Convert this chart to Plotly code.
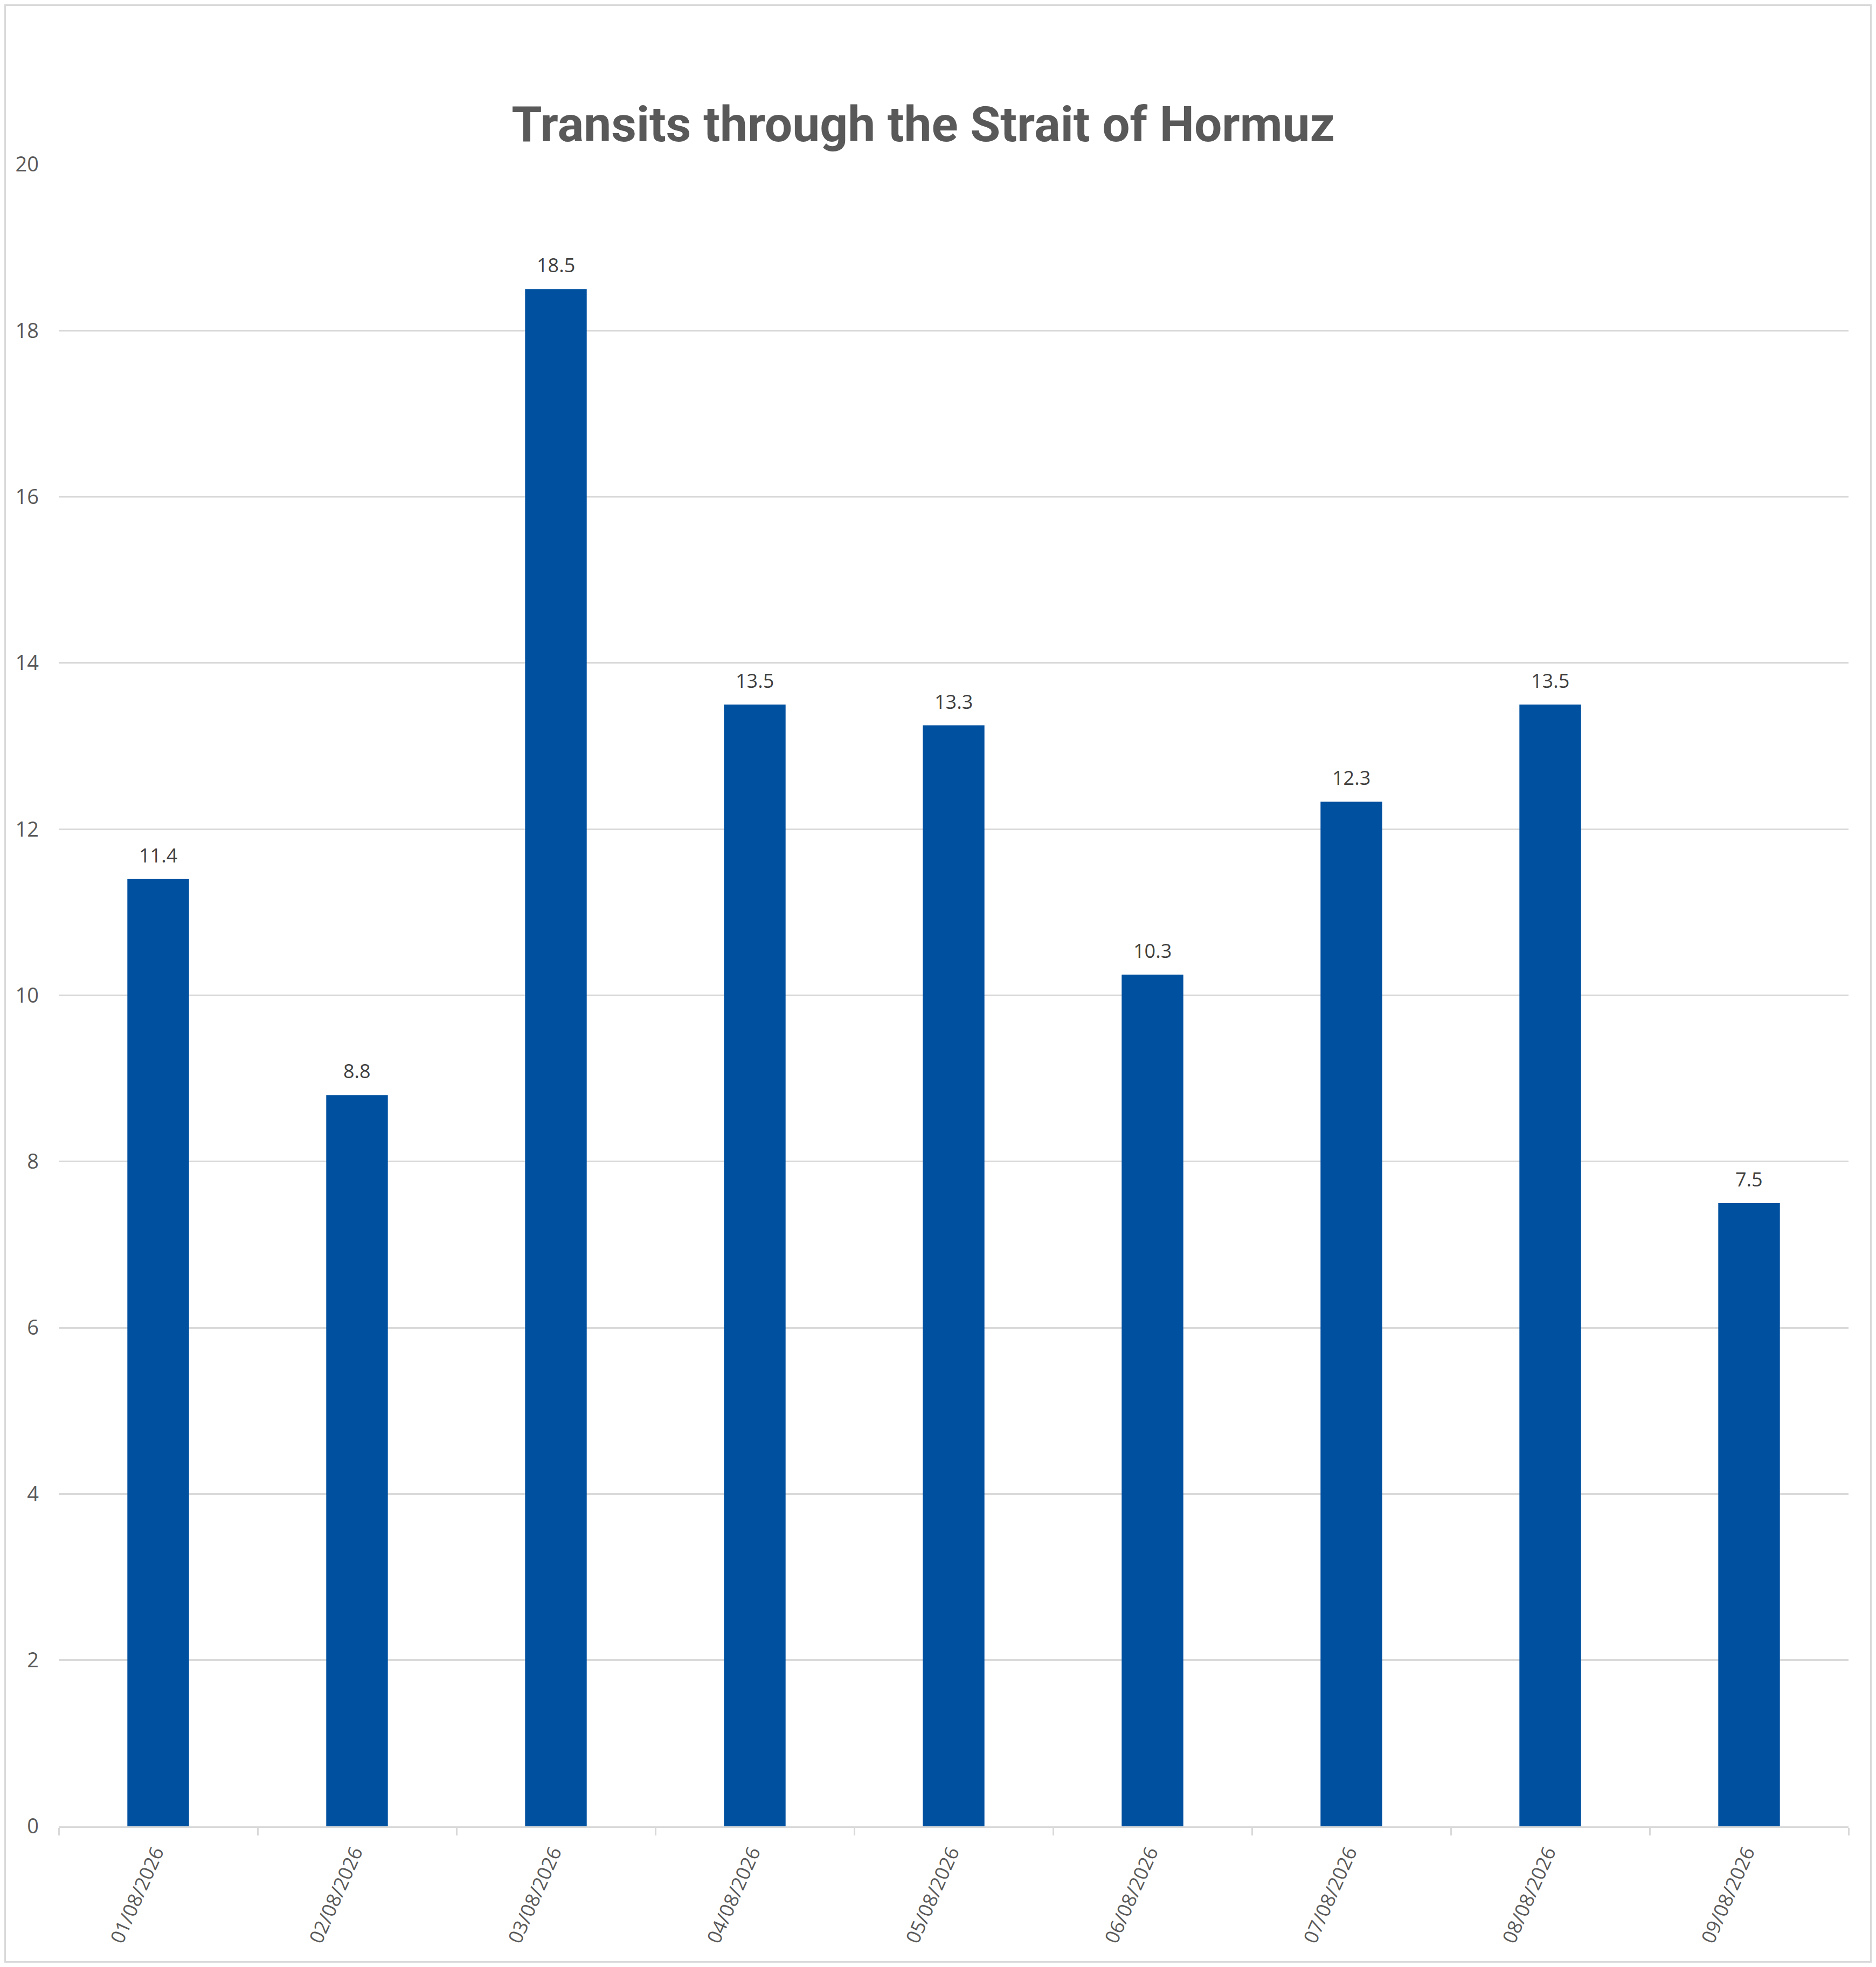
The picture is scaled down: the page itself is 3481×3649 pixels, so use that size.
import plotly.graph_objects as go

# values
dates = ["01/08/2026", "02/08/2026", "03/08/2026", "04/08/2026", "05/08/2026",
         "06/08/2026", "07/08/2026", "08/08/2026", "09/08/2026"]
transits = [11.4, 8.8, 18.5, 13.5, 13.25, 10.25, 12.33, 13.5, 7.5]
bar_labels = ["11.4", "8.8", "18.5", "13.5", "13.3", "10.3", "12.3", "13.5", "7.5"]
y_ticks = [0, 2, 4, 6, 8, 10, 12, 14, 16, 18, 20]

# page body has an 8px margin, so the figure is a bit smaller than the window
W, H = 3481 - 16, 3649 - 16
ML, MR, MT, MB = 101, 43, 297, 253
plot_w = W - ML - MR
plot_h = H - MT - MB

fig = go.Figure()
fig.add_trace(go.Bar(x=dates, y=transits, marker=dict(color="#0050A0", line=dict(width=0)),
                     hoverinfo="x+y"))

for d, v, t in zip(dates, transits, bar_labels):
    fig.add_annotation(x=d, y=v, text=t, showarrow=False, yanchor="bottom", yshift=18,
                       font=dict(family="Open Sans", size=36, color="#404040"))

# chart area border
fig.add_shape(type="rect", xref="paper", yref="paper",
              x0=-(ML - 1.5) / plot_w, x1=1 + (MR - 1.5) / plot_w,
              y0=-(MB - 1.5) / plot_h, y1=1 + (MT - 1.5) / plot_h,
              line=dict(color="#D9D9D9", width=3), layer="below")

fig.update_layout(
    width=W, height=H,
    margin=dict(l=ML, r=MR, t=MT, b=MB),
    paper_bgcolor="white", plot_bgcolor="white",
    bargap=0.69, showlegend=False,
    title=dict(text="<b>Transits through the Strait of Hormuz</b>",
               x=1705 / W, xanchor="center", xref="container",
               y=1 - 222 / H, yanchor="middle", yref="container",
               font=dict(family="Roboto", size=91, color="#595959")),
)
fig.update_xaxes(type="category", showline=True, linecolor="#D9D9D9", linewidth=3,
                 ticks="outside", tickson="boundaries", ticklen=14, tickwidth=3,
                 tickcolor="#D9D9D9", tickangle=-66, ticklabelstandoff=10,
                 ticklabelshift=-5,
                 tickfont=dict(family="Open Sans", size=36, color="#595959"),
                 showgrid=False)
fig.update_yaxes(range=[0, 20], tickvals=y_ticks, showgrid=True, gridcolor="#D9D9D9",
                 gridwidth=3, zeroline=False, showline=False, ticks="",
                 ticklabelstandoff=36,
                 tickfont=dict(family="Open Sans", size=38, color="#595959"))

fig.write_html("out.html")
